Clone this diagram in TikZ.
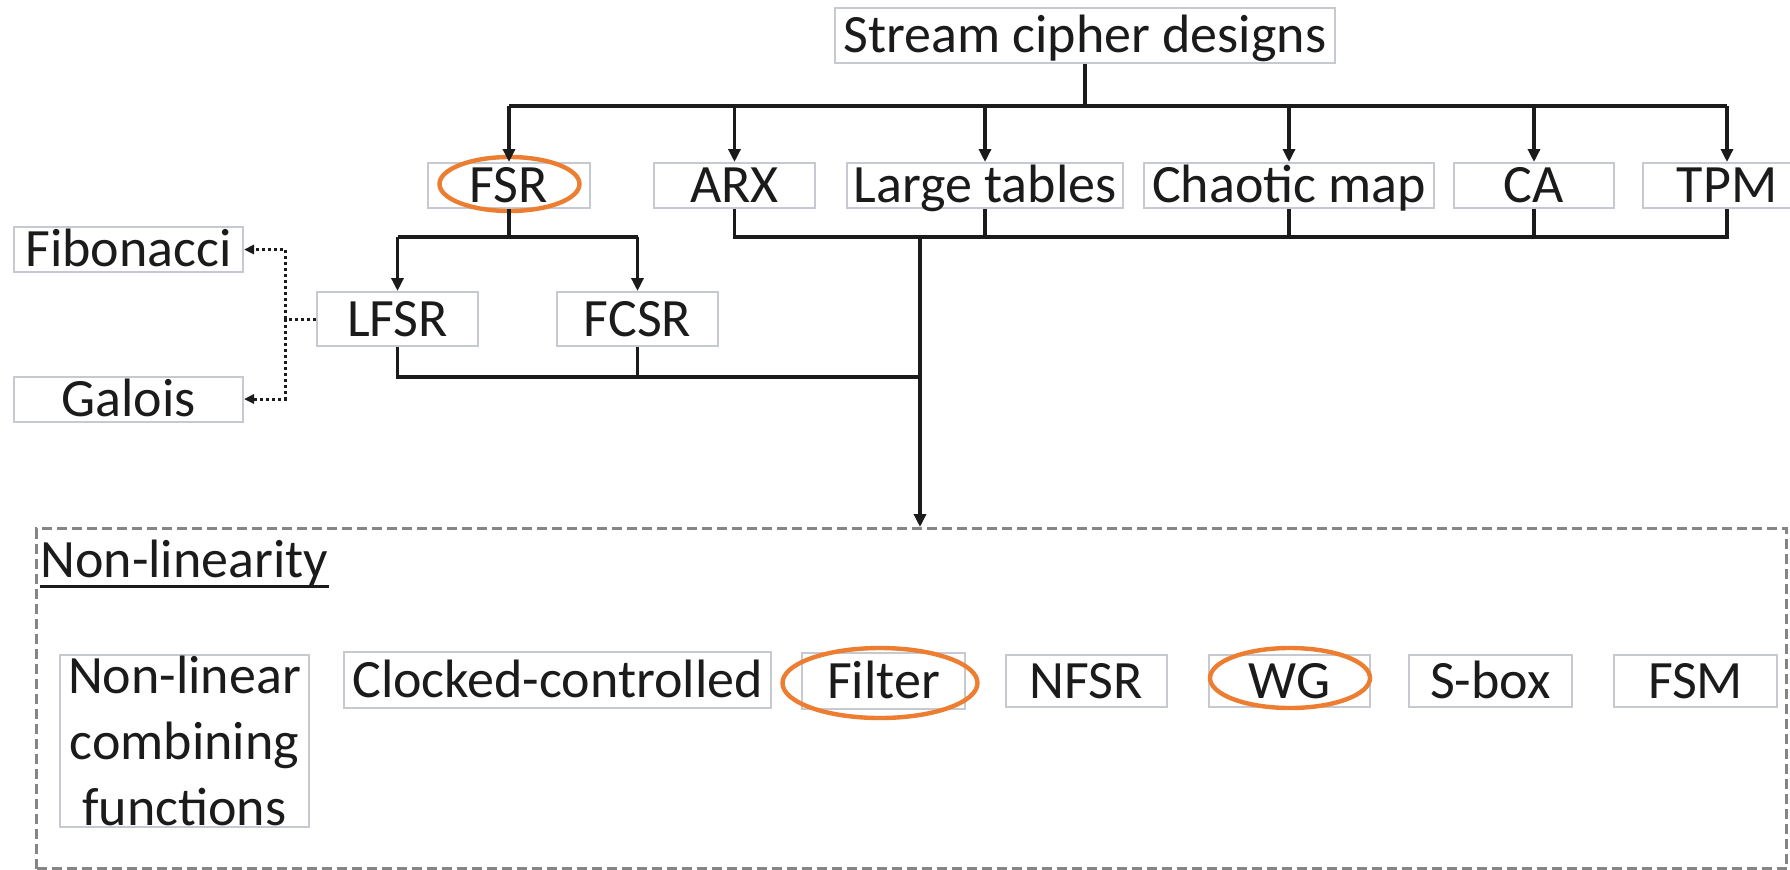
\documentclass[tikz,border=0pt]{standalone}
\usepackage{fontspec}
\setmainfont{Carlito}
\usetikzlibrary{arrows.meta,shapes.geometric}
\definecolor{ink}{HTML}{1B1B1B}
\definecolor{cellrule}{HTML}{C6CAD0}
\definecolor{accent}{HTML}{ED7D31}
\definecolor{frameline}{HTML}{858585}
\begin{document}
\begin{tikzpicture}[x=0.5pt,y=-0.5pt,
  cell/.style={draw=cellrule, line width=1pt, fill=white, text=ink, inner sep=0pt,
    font=\fontsize{27}{33}\selectfont},
  oneline/.style={cell, text height=17pt, text depth=0pt, minimum height=#1},
  oneline/.default=22.5pt,
  ring/.style={ellipse, draw=accent, line width=2.2pt, inner sep=0pt},
  wire/.style={draw=ink, line width=1.8pt},
  arrowed/.style={-{Triangle[length=6.5pt,width=6pt]}},
  dotwire/.style={draw=ink, line width=1.5pt, dash pattern=on 1.5pt off 1.5pt},
  dotarrow/.style={-{Triangle[length=5pt,width=4.5pt]}},
  frame/.style={draw=frameline, line width=1.5pt, dash pattern=on 5pt off 2.5pt, inner sep=0pt},
]
\useasboundingbox (0,0) rectangle (1790,869);

% root and first level
\node[oneline=27.5pt, minimum width=250pt] (root) at (1085,35.5) {Stream cipher designs};
\node[oneline, minimum width=81pt]    (fsr)    at (509,185.5)  {FSR};
\node[oneline, minimum width=80.5pt]  (arx)    at (734.5,185.5) {ARX};
\node[oneline, minimum width=138pt]   (tables) at (985,185.5)  {Large tables};
\node[oneline, minimum width=145pt]   (chaos)  at (1289,185.5) {Chaotic map};
\node[oneline, minimum width=80pt]    (ca)     at (1534,185.5) {CA};
\node[oneline, minimum width=84pt]    (tpm)    at (1727,185.5) {TPM};

% shift register branch
\node[oneline=27pt, minimum width=80.5pt] (lfsr) at (397.5,319) {LFSR};
\node[oneline=27pt, minimum width=80.5pt] (fcsr) at (637.5,319) {FCSR};
\node[oneline, minimum width=114.5pt] (fib)    at (128.5,249.5) {Fibonacci};
\node[oneline, minimum width=114.5pt] (galois) at (128.5,399)   {Galois};

% non-linearity group
\node[frame, anchor=north west, minimum width=875pt, minimum height=170pt] (nl) at (35,527) {};
\node[anchor=base west, text=ink, inner sep=0pt, font=\fontsize{27}{33}\selectfont] (nltitle) at (40,577) {Non-linearity};
\draw[ink, line width=1.5pt] ([yshift=-4.5pt]nltitle.base west) -- ([yshift=-4.5pt]nltitle.base east);

\node[cell, align=center, minimum width=124.5pt, minimum height=86pt] (nlc) at (184.5,741) {Non-linear\\combining\\functions};
\node[oneline=28pt, minimum width=213.5pt] (clk)    at (557.5,680)  {Clocked-controlled};
\node[oneline=28pt, minimum width=81.5pt]  (filter) at (883.5,681)  {Filter};
\node[oneline=26pt, minimum width=80.5pt]  (nfsr)   at (1086.5,681) {NFSR};
\node[oneline=26pt, minimum width=80.5pt]  (wg)     at (1289.5,681) {WG};
\node[oneline=26pt, minimum width=81.5pt]  (sbox)   at (1490.5,681) {S-box};
\node[oneline=26pt, minimum width=81.5pt]  (fsm)    at (1695.5,681) {FSM};

% highlight rings
\node[ring, minimum width=70pt, minimum height=27pt]   (fsrring)    at (509.5,184) {};
\node[ring, minimum width=97.5pt, minimum height=35pt] (filterring) at (880,683)   {};
\node[ring, minimum width=80pt, minimum height=30pt]   (wgring)     at (1290,678)  {};

% bus levels
\coordinate (topbus) at (0,106);
\coordinate (lowbus) at (0,237);
\coordinate (botbus) at (0,377);
\coordinate (drop)   at (920,237);
\coordinate (split)  at (285,319);

% root fan-out
\draw[wire] (root.south) -- (root.south |- topbus);
\draw[wire] (fsr.north |- topbus) -- (tpm.north |- topbus);
\foreach \n in {fsr,arx,tables,chaos,ca,tpm}
  \draw[wire,arrowed] (\n.north |- topbus) -- (\n.north);

% fan-in towards the non-linearity group
\draw[wire] (arx.south) -- (arx.south |- lowbus) -- (tpm.south |- lowbus) -- (tpm.south);
\foreach \n in {tables,chaos,ca}
  \draw[wire] (\n.south) -- (\n.south |- lowbus);
\draw[wire,arrowed] (drop) -- (drop |- nl.north);

% FSR split into LFSR / FCSR
\draw[wire] (fsr.south) -- (fsr.south |- lowbus);
\draw[wire] (lfsr.north |- lowbus) -- (fcsr.north |- lowbus);
\draw[wire,arrowed] (lfsr.north |- lowbus) -- (lfsr.north);
\draw[wire,arrowed] (fcsr.north |- lowbus) -- (fcsr.north);
\draw[wire] (lfsr.south) -- (lfsr.south |- botbus) -- (drop |- botbus);
\draw[wire] (fcsr.south) -- (fcsr.south |- botbus);

% LFSR variants
\draw[dotwire] (lfsr.west) -- (split);
\draw[dotwire,dotarrow] (split) |- (fib.east);
\draw[dotwire,dotarrow] (split) |- (galois.east);
\end{tikzpicture}
\end{document}
